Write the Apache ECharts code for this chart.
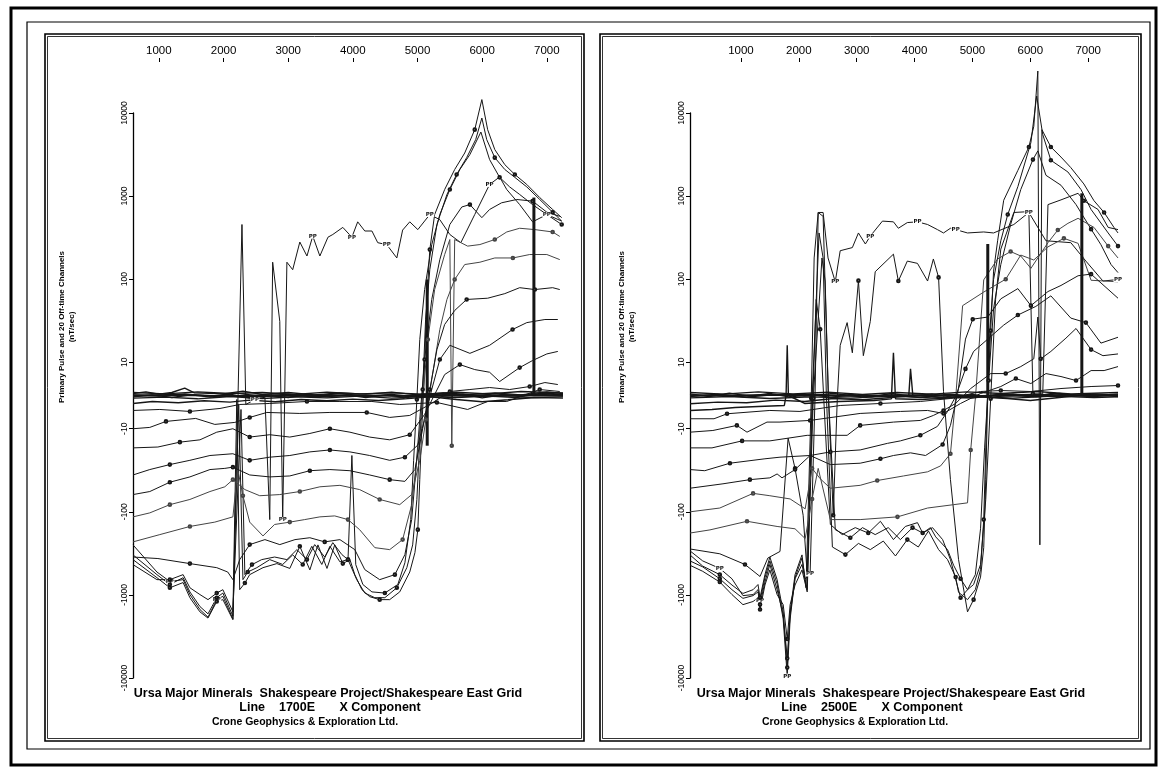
<!DOCTYPE html>
<html>
<head>
<meta charset="utf-8">
<script src="https://cdn.jsdelivr.net/npm/echarts@6.0.0/dist/echarts.min.js"></script>
<style>
  html, body { margin: 0; padding: 0; background: #fff; }
  #chart { width: 1158px; height: 767px; }
</style>
</head>
<body>
<div id="chart"></div>
<script>
// ---- axis ticks ----
const xTicks = [1000, 2000, 3000, 4000, 5000, 6000, 7000];
const yTickValues = [-10000, -1000, -100, -10, 10, 100, 1000, 10000];
const yTickLabels = ['-10000', '-1000', '-100', '-10', '10', '100', '1000', '10000'];

// ---- Line 1700E : [station, nT/sec] ----
const A_PP = [[600,-250],[970,-530],[1170,-690],[1375,-655],[1480,-990],[1635,-1500],[1760,-1850],[1895,-1140],[1990,-1040],[2145,-1950],[2285,455],[2345,-2.7],[2485,-1.2],[2640,-0.5],[2715,-124],[2760,160],[2870,31],[2915,-124],[2980,160],[3070,130],[3180,280],[3290,190],[3380,330],[3490,190],[3615,320],[3690,345],[3845,420],[3985,320],[4075,490],[4185,380],[4295,380],[4385,275],[4525,260],[4680,180],[4770,390],[4880,490],[5005,395],[5190,600],[5345,520],[5500,345],[5670,275],[5885,600],[6115,1380],[6270,1700],[6380,1200],[6580,790],[6780,490],[7000,600],[7230,500]];
const A_CH1 = [[600,-330],[970,-570],[1170,-750],[1375,-620],[1480,-920],[1635,-1380],[1760,-1690],[1895,-1080],[1990,-950],[2145,-1800],[2205,-1.2],[2250,-865],[2330,-720],[2405,-570],[2610,-470],[2825,-420],[3025,-480],[3180,-260],[3335,-500],[3460,-250],[3600,-480],[3720,-250],[3845,-420],[3955,-376],[4030,-570],[4140,-865],[4260,-1050],[4415,-1140],[4570,-1140],[4725,-920],[4880,-530],[4960,-310],[5005,-164],[5035,-41],[5065,-10],[5095,1.8],[5145,57],[5190,227],[5265,600],[5420,1200],[5575,2090],[5730,3300],[5885,6300],[5995,14500],[6085,6300],[6195,3630],[6350,2390],[6505,1820],[6690,1380],[6890,960],[7090,690],[7230,550]];
const A_CH2 = [[600,-376],[970,-620],[1170,-820],[1375,-710],[1480,-1080],[1635,-1600],[1760,-1900],[1895,-1200],[1990,-1140],[2145,-1990],[2235,-2.7],[2300,-655],[2375,-530],[2515,-470],[2715,-376],[2915,-430],[3070,-330],[3225,-430],[3365,-260],[3520,-430],[3645,-260],[3800,-400],[3925,-376],[4060,-655],[4185,-950],[4340,-1080],[4495,-1080],[4680,-820],[4835,-470],[4925,-250],[4990,-71],[5035,-13.6],[5080,1.8],[5125,33],[5190,130],[5300,455],[5455,1045],[5605,1820],[5760,2900],[5900,4790],[5995,8700],[6070,4790],[6195,2900],[6350,2090],[6505,1680],[6690,1290],[6890,910],[7090,640],[7230,500]];
const A_CH3 = [[600,-432],[970,-655],[1170,-655],[1375,-570],[1480,-820],[1635,-990],[1760,-1140],[1895,-950],[1990,-865],[2145,-1600],[2270,-4.2],[2330,-570],[2440,-432],[2590,-376],[2790,-350],[2980,-376],[3135,-285],[3290,-376],[3410,-248],[3565,-350],[3690,-235],[3830,-327],[3925,-376],[3985,-21],[4045,-432],[4155,-750],[4295,-920],[4495,-950],[4695,-750],[4805,-410],[4895,-124],[4940,-24],[4990,-1.2],[5035,18.8],[5110,75],[5220,260],[5345,600],[5500,1200],[5655,2090],[5810,3160],[5980,5900],[6115,2750],[6270,1680],[6425,1290],[6580,1045],[6780,790],[7000,600],[7230,455]];
const A_CH4 = [[600,-350],[985,-365],[1480,-420],[1895,-470],[2065,-530],[2145,-655],[2250,-376],[2405,-248],[2640,-216],[2870,-248],[3105,-216],[3335,-205],[3565,-230],[3800,-216],[4030,-285],[4185,-496],[4415,-655],[4650,-570],[4805,-327],[4910,-124],[4975,-31],[5035,-7.2],[5110,10.8],[5220,57],[5345,172],[5500,455],[5685,740],[5810,790],[5995,550],[6115,690],[6300,830],[6535,910],[6780,870],[7000,640],[7200,570]];
const A_CH5 = [[600,-230],[1015,-188],[1480,-150],[1865,-133],[2145,-115],[2220,-31],[2300,-64],[2405,-133],[2610,-195],[2790,-142],[3025,-133],[3255,-124],[3490,-115],[3720,-112],[3925,-124],[4105,-164],[4340,-270],[4570,-285],[4770,-216],[4910,-82],[5005,-18],[5080,-1.2],[5160,18.8],[5265,75],[5420,198],[5500,300],[5530,-16],[5575,300],[5775,250],[5965,261],[6195,300],[6380,370],[6580,410],[6815,395],[7090,370],[7200,327]];
const A_CH6 = [[600,-115],[860,-103],[1170,-82],[1480,-71],[1790,-57],[2020,-50],[2145,-41],[2330,-54],[2560,-64],[2870,-62],[3180,-57],[3490,-50],[3800,-48],[4105,-54],[4415,-71],[4725,-82],[4910,-62],[5035,-24],[5130,-7.2],[5220,4.8],[5345,24.8],[5455,57],[5575,99],[5730,150],[5965,160],[6195,180],[6475,180],[6735,198],[7000,198],[7200,172]];
const A_CH7 = [[600,-62],[860,-57],[1170,-44],[1480,-38],[1790,-31],[2020,-30],[2145,-29],[2405,-36],[2715,-38],[3025,-37],[3335,-32],[3645,-31],[3955,-32],[4260,-36],[4570,-41],[4805,-43],[4960,-31],[5080,-10],[5190,1.8],[5300,14.2],[5420,28.5],[5575,42],[5760,57],[6085,59],[6350,67],[6580,79],[6815,75],[7090,79],[7200,75]];
const A_CH8 = [[600,-36],[860,-31],[1170,-27],[1480,-24],[1790,-21],[2145,-20],[2405,-24],[2715,-22],[3025,-21],[3335,-19],[3645,-18],[3955,-19],[4260,-21],[4570,-24],[4805,-22],[5005,-15.7],[5110,-7.2],[5220,1.8],[5345,10.8],[5500,16],[5810,12.8],[6115,16],[6470,24.8],[6690,30],[6970,32.7],[7170,32.7]];
const A_CH9 = [[600,-17],[985,-16.6],[1325,-14.5],[1635,-13.6],[1895,-11],[2145,-10],[2405,-12.6],[2715,-11.8],[3025,-12.6],[3335,-11.4],[3645,-10],[3955,-11],[4260,-12.6],[4570,-13.6],[4880,-11.8],[5110,-5.7],[5265,0.3],[5420,6.3],[5655,9.3],[5885,7.8],[6115,7],[6270,4.2],[6580,8.4],[6780,10.5],[7000,12.6],[7170,13.5]];
const A_CH10 = [[600,-10],[860,-9.6],[1110,-7.8],[1570,-6.9],[1865,-8.7],[2175,-8.1],[2405,-6.6],[2670,-5.1],[3180,-5.4],[3645,-5.1],[4215,-5.1],[4570,-6.6],[4880,-6],[5190,-2.7],[5500,1.2],[5810,1.8],[6115,2.4],[6425,1.8],[6735,2.7],[6970,3.9],[7170,3.3]];
const A_CH11 = [[600,-4.5],[1015,-4.2],[1480,-4.8],[1945,-3.9],[2250,-2.7],[2715,-2.4],[3290,-1.8],[3800,-1.8],[4295,-1.8],[4725,-2.7],[5300,-2.1],[5775,-4.2],[6085,-1.8],[6380,-1.8],[6890,1.8],[7200,1.2]];
const A_CH12 = [[600,-2.4],[900,-1.8],[1300,-2.2],[1700,-1.6],[2100,-2],[2400,-1.4],[2800,-1.9],[3200,-1.2],[3600,-1.6],[4000,-1.1],[4400,-1.5],[4800,-1],[5200,-0.4],[5600,-1.2],[6000,-1.9],[6400,-1.3],[6800,-0.6],[7250,-0.8]];
const A_CH13 = [[600,0.6],[800,1.1],[1000,0.4],[1200,0.9],[1400,2.2],[1550,0.8],[2000,0.5],[2300,1.3],[2600,0.3],[3000,0.9],[3400,0.2],[3800,0.8],[4200,0.4],[4600,1],[5000,0.2],[5400,0.8],[5800,0.3],[6200,0.8],[6600,0.2],[7000,1.1],[7250,0.6]];
const A_CH14 = [[600,-0.4],[900,0.2],[1200,-0.6],[1500,0.2],[1800,-0.5],[2100,0.4],[2400,-0.8],[2700,0],[3000,-0.6],[3300,0.3],[3600,-0.4],[3900,0.2],[4200,-0.6],[4500,0.1],[4800,-0.5],[5100,0.5],[5400,-0.2],[5700,0.4],[6000,-0.7],[6300,0.2],[6600,-0.3],[6900,0.6],[7250,0.2]];
const A_CH15 = [[600,0.2],[1000,-0.2],[1400,0.5],[1800,-0.2],[2200,0.7],[2600,-0.3],[3000,0.4],[3400,-0.1],[3800,0.6],[4200,-0.2],[4600,0.3],[5000,-0.4],[5400,0.6],[5800,-0.2],[6200,0.5],[6600,-0.1],[7000,0.7],[7250,0.3]];
const A_CH16 = [[600,-0.8],[1100,-0.5],[1600,-1],[2100,-0.3],[2600,-0.9],[3100,-0.4],[3600,-0.7],[4100,-0.2],[4600,-0.8],[5100,-0.3],[5600,-0.6],[6100,-0.2],[6600,-0.7],[7250,-0.4]];
const A_CH17 = [[600,0.9],[1100,0.5],[1600,1.1],[2100,0.6],[2600,0.9],[3100,0.3],[3600,1],[4100,0.5],[4600,0.8],[5100,0.4],[5600,1],[6100,0.5],[6600,1.2],[7250,0.8]];
const A_CH18 = [[600,0],[1300,0.3],[2000,-0.2],[2700,0.2],[3400,-0.3],[4100,0.1],[4800,-0.2],[5500,0.3],[6200,-0.1],[6900,0.3],[7250,0]];
const A_CH19 = [[600,-0.2],[1500,0.1],[2400,-0.3],[3300,0],[4200,-0.2],[5100,0.1],[6000,-0.3],[6900,0],[7250,-0.1]];
const A_CH20 = [[600,0.1],[2000,-0.1],[3500,0.2],[5000,-0.1],[6500,0.1],[7250,0]];
// heavy vertical strokes: [station, top, bottom]
const A_BARS = [[5150, 99, -16], [6800, 960, 0]];

// ---- Line 2500E : [station, nT/sec] ----
const B_PP = [[120,-295],[340,-390],[635,-480],[845,-640],[1035,-1020],[1210,-990],[1295,-865],[1330,-1170],[1415,-620],[1500,-390],[1625,-740],[1730,-1950],[1800,-9500],[1850,-1950],[1935,-620],[2055,-360],[2110,-640],[2195,-560],[2280,-0.8],[2335,635],[2420,635],[2505,180],[2630,93],[2715,220],[2925,240],[3030,360],[3150,265],[3235,330],[3445,500],[3635,490],[3720,410],[3875,480],[4050,490],[4225,455],[4395,395],[4500,360],[4620,410],[4710,395],[4915,360],[5195,370],[5365,360],[5715,455],[5975,635],[6270,290],[6700,275],[6960,165],[7255,95],[7515,99]];
const B_CH1 = [[120,-330],[340,-450],[635,-570],[845,-760],[1035,-960],[1210,-865],[1295,-750],[1330,-1080],[1415,-570],[1500,-350],[1625,-655],[1730,-1600],[1800,-7500],[1850,-1600],[1935,-570],[2055,-330],[2125,-820],[2215,-0.8],[2265,180],[2335,635],[2420,570],[2510,0.3],[2595,-110],[2665,-1],[2715,16],[2835,30],[2925,13],[3030,96],[3115,12],[3235,31],[3320,123],[3635,200],[3720,95],[3875,165],[4050,155],[4225,95],[4325,175],[4415,105],[4500,1.2],[4620,-41],[4760,-376],[4915,-1600],[5020,-1140],[5140,-610],[5195,-270],[5230,-41],[5265,0],[5315,24],[5365,125],[5435,290],[5540,890],[5785,2040],[5975,3900],[6060,6900],[6130,32000],[6165,-250],[6200,6300],[6355,3900],[6530,2950],[6700,2200],[6925,1400],[7100,880],[7275,635],[7445,420],[7515,360]];
const B_CH2 = [[120,-390],[340,-460],[635,-640],[845,-865],[1035,-1100],[1210,-1020],[1295,-920],[1330,-1300],[1415,-700],[1500,-430],[1625,-865],[1730,-1730],[1800,-5800],[1850,-1730],[1935,-640],[2055,-430],[2145,-865],[2230,-0.8],[2350,360],[2420,180],[2475,0.6],[2580,-265],[2805,-327],[3030,-240],[3235,-285],[3460,-225],[3670,-340],[3875,-216],[4065,-265],[4240,-170],[4415,-285],[4570,-376],[4710,-610],[4760,-930],[4915,-1140],[5050,-865],[5140,-496],[5195,-124],[5245,-7],[5300,24],[5365,99],[5490,290],[5610,600],[5785,1300],[6010,4400],[6110,16000],[6215,5500],[6355,2700],[6650,1950],[6875,1200],[7050,690],[7345,360],[7515,250]];
const B_CH3 = [[120,-440],[340,-520],[635,-700],[845,-990],[1035,-1310],[1210,-1200],[1295,-1080],[1330,-1500],[1415,-760],[1500,-500],[1625,-990],[1730,-1310],[1800,-3400],[1850,-1310],[1935,-760],[2055,-500],[2145,-920],[2250,-0.8],[2400,180],[2455,95],[2510,0.6],[2630,-164],[2890,-205],[3100,-155],[3320,-188],[3545,-155],[3755,-216],[3965,-155],[4140,-180],[4310,-155],[4485,-216],[4620,-376],[4795,-1080],[4915,-865],[5050,-570],[5140,-160],[5210,-17],[5280,4.5],[5365,44],[5490,150],[5660,455],[5835,1200],[6045,2750],[6130,3500],[6270,1780],[6530,1350],[6790,790],[7050,400],[7220,260],[7395,150],[7515,120]];
const B_CH4 = [[120,-280],[635,-320],[1070,-430],[1330,-600],[1465,-360],[1675,-300],[1815,-13],[1935,-30],[2075,-110],[2145,-560],[2230,-7],[2300,57],[2370,25],[2440,-4],[2545,-142],[2750,-188],[2975,-155],[3200,-180],[3410,-130],[3635,-216],[3840,-150],[4050,-135],[4140,-180],[4275,-155],[4365,-200],[4570,-285],[4675,-440],[4795,-640],[4915,-865],[5020,-750],[5140,-430],[5230,-71],[5315,-1],[5400,57],[5490,230],[5715,635],[5975,650],[6045,0.5],[6215,0.5],[6305,790],[6530,900],[6825,1080],[6925,880],[7170,690],[7345,420],[7515,395]];
const B_CH5 = [[120,-180],[465,-165],[1105,-130],[1625,-150],[1935,-160],[2110,-210],[2230,-70],[2335,-30],[2545,-124],[3060,-124],[3705,-115],[4225,-90],[4675,-82],[4915,-78],[4970,-18],[5055,0],[5195,98],[5435,175],[5660,215],[5835,190],[6010,135],[6305,275],[6475,390],[6650,470],[6825,540],[7100,420],[7345,250],[7515,180]];
const B_CH6 = [[120,-100],[635,-90],[1210,-60],[1500,-64],[1850,-70],[2110,-92],[2230,-30],[2370,-40],[2545,-52],[3060,-48],[3355,-42],[3810,-37],[4225,-33],[4450,-28],[4620,-20],[4710,-0.8],[4830,48],[5195,70],[5575,100],[5835,195],[6060,170],[6305,245],[6580,310],[6825,270],[7050,97],[7515,93]];
const B_CH7 = [[120,-52],[690,-46],[1155,-41],[1500,-39],[1625,-35],[1710,-39],[1935,-31],[2195,-21],[2545,-27],[3060,-26],[3410,-23],[3635,-21],[3930,-19.5],[4190,-21],[4485,-15.5],[4620,-9],[4745,0.6],[4880,19],[5005,33],[5265,35],[5490,58],[5785,77],[6010,48],[6305,71],[6530,84],[6825,110],[7050,115],[7515,59]];
const B_CH8 = [[120,-31],[375,-32],[810,-26],[1415,-23],[1675,-22],[2195,-21],[2545,-19],[3060,-18],[3530,-15],[3755,-14],[4100,-12],[4395,-9.3],[4570,-4.8],[4710,-0.3],[4880,8],[5020,13.5],[5265,19],[5540,28],[5785,37],[6095,47],[6355,63],[6700,34],[6960,30],[7220,17],[7515,20]];
const B_CH9 = [[120,-17],[500,-17],[1020,-14],[1500,-14],[2145,-12],[2835,-12],[3060,-9],[3635,-8],[4100,-7.5],[4325,-6],[4500,-4.5],[4710,-2.4],[4970,2.1],[5315,6.6],[5575,6.6],[5835,8.7],[6060,11],[6130,35],[6180,11],[6355,13.5],[6615,19.5],[6790,25.5],[7050,14.2],[7255,12],[7515,12.6]];
const B_CH10 = [[120,-11],[515,-10.5],[930,-9],[1105,-11],[1450,-8],[1675,-8],[2195,-7.5],[3060,-5.4],[3755,-4.8],[4225,-4.5],[4500,-5.4],[4795,-2.4],[5140,0.6],[5490,2.7],[5750,5.1],[6010,3.6],[6270,6.6],[6530,5.7],[6790,4.5],[7050,7.5],[7275,7.5],[7515,8.7]];
const B_CH11 = [[120,-7],[535,-7],[760,-5.5],[1500,-4.5],[2020,-4.8],[2715,-3],[3410,-2.4],[4100,-1.8],[4620,-0.9],[5140,1.2],[5490,1.5],[6010,1.2],[6530,2.1],[7050,2.7],[7515,3]];
const B_CH12 = [[120,-4.5],[500,-4.2],[900,-3.6],[1300,-3.3],[1750,-3],[1780,0],[1800,16],[1820,0],[2100,-2.4],[2700,-1.8],[3300,-1.5],[3600,-1],[3635,13],[3670,-1],[4100,-1.2],[4600,-0.8],[5100,-0.4],[5600,-0.9],[6000,-1.5],[6500,-0.6],[7000,0.3],[7515,-0.3]];
const B_CH13 = [[120,-2.5],[600,-2],[1100,-2.2],[1600,-1.4],[2100,-1.8],[2600,-0.9],[3100,-1.3],[3600,-0.6],[3900,-0.2],[3930,8],[3970,0],[4500,-0.5],[5000,-0.8],[5500,0.4],[6000,-0.3],[6500,0.6],[7000,-0.2],[7515,0.5]];
const B_CH14 = [[120,0.5],[450,-0.3],[800,0.7],[1150,-0.2],[1500,0.6],[1850,-0.5],[2200,0.4],[2550,-0.6],[2900,0.3],[3250,-0.4],[3600,0.6],[3950,-0.2],[4300,0.5],[4650,-0.5],[5000,0.3],[5350,-0.6],[5700,0.4],[6050,-0.3],[6400,0.7],[6750,-0.1],[7100,0.5],[7515,0.1]];
const B_CH15 = [[120,-0.3],[600,0.4],[1100,-0.5],[1600,0.3],[2100,-0.2],[2600,0.6],[3100,-0.4],[3600,0.2],[4100,-0.6],[4600,0.4],[5100,-0.2],[5600,0.5],[6100,-0.4],[6600,0.3],[7100,-0.3],[7515,0.2]];
const B_CH16 = [[120,0.9],[700,0.4],[1300,1.1],[1900,0.5],[2500,1],[3100,0.3],[3700,0.9],[4300,0.4],[4900,1.1],[5500,0.6],[6100,1.2],[6700,0.5],[7515,0.9]];
const B_CH17 = [[120,-0.7],[800,-0.3],[1500,-0.9],[2200,-0.4],[2900,-0.8],[3600,-0.2],[4300,-0.7],[5000,-0.3],[5700,-0.8],[6400,-0.2],[7100,-0.6],[7515,-0.4]];
const B_CH18 = [[120,0.2],[1000,-0.1],[2000,0.3],[3000,-0.2],[4000,0.2],[5000,-0.1],[6000,0.3],[7000,-0.2],[7515,0.1]];
const B_CH19 = [[120,-0.1],[1400,0.2],[2800,-0.2],[4200,0.1],[5600,-0.2],[7000,0.2],[7515,0]];
const B_CH20 = [[120,0],[2500,0.1],[5000,-0.1],[7515,0.1]];
const B_BARS = [[5265, 265, 0], [6890, 1080, 0]];

// ---- captions ----
const A_LINE = 'Line    1700E       X Component';
const B_LINE = 'Line    2500E       X Component';
const TITLE = 'Ursa Major Minerals  Shakespeare Project/Shakespeare East Grid';
const COMPANY = 'Crone Geophysics & Exploration Ltd.';
const Y_NAME = 'Primary Pulse and 20 Off-time Channels';
const Y_UNIT = '(nT/sec)';

// symmetric log: linear inside +-10, one unit per decade beyond
function T(v) {
  const a = Math.abs(v);
  if (a < 10) return v * 0.04;
  return Math.sign(v) * (0.4 + Math.log10(a / 10));
}
const yTickPos = yTickValues.map(T);
function yLabel(val) {
  for (let i = 0; i < yTickPos.length; i++) {
    if (Math.abs(yTickPos[i] - val) < 1e-6) return yTickLabels[i];
  }
  return '';
}

const INK = '#161616';
function channel(pts, idx, opts) {
  const o = opts || {};
  const every = o.every || 0;
  const col = o.color || INK;
  return {
    type: 'line',
    xAxisIndex: idx, yAxisIndex: idx,
    clip: false,
    animation: false,
    silent: true,
    showSymbol: true,
    showAllSymbol: true,
    symbol: 'none',
    symbolSize: 2.6,
    itemStyle: { color: col, borderWidth: 0.7 },
    lineStyle: { color: col, width: o.width || 1 },
    data: pts.map(function (p, i) {
      const item = { value: [p[0], T(p[1])] };
      if (every && i % every === 2) {
        if (o.text) {
          item.symbol = 'rect';
          item.symbolSize = [9, 5];
          item.itemStyle = { color: '#fff', borderWidth: 0 };
          item.label = { show: true, position: 'inside', formatter: o.text, fontSize: 5.5, fontWeight: 'bold', color: INK, fontFamily: 'DejaVu Sans' };
        } else {
          item.symbol = 'emptyCircle';
        }
      }
      return item;
    })
  };
}
function bars(list, idx) {
  return list.map(function (b) {
    return {
      type: 'line', xAxisIndex: idx, yAxisIndex: idx, clip: false, animation: false, silent: true,
      symbol: 'none', lineStyle: { color: INK, width: 3 },
      data: [[b[0], T(b[1])], [b[0], T(b[2])]]
    };
  });
}
function panelSeries(set, idx) {
  const out = [];
  out.push(channel(set.pp, idx, { every: 5, text: 'PP' }));
  set.early.forEach(function (s) { out.push(channel(s, idx, { every: 5 })); });
  set.mid.forEach(function (s, k) { out.push(channel(s, idx, { every: 4, color: k < 2 ? '#444' : INK })); });
  set.late.forEach(function (s) { out.push(channel(s, idx, { width: 1.4 })); });
  return out.concat(bars(set.bars, idx));
}

const A_SET = { pp: A_PP, early: [A_CH1, A_CH2, A_CH3, A_CH4], mid: [A_CH5, A_CH6, A_CH7, A_CH8, A_CH9, A_CH10, A_CH11],
  late: [A_CH12, A_CH13, A_CH14, A_CH15, A_CH16, A_CH17, A_CH18, A_CH19, A_CH20], bars: A_BARS };
const B_SET = { pp: B_PP, early: [B_CH1, B_CH2, B_CH3, B_CH4], mid: [B_CH5, B_CH6, B_CH7, B_CH8, B_CH9, B_CH10, B_CH11],
  late: [B_CH12, B_CH13, B_CH14, B_CH15, B_CH16, B_CH17, B_CH18, B_CH19, B_CH20], bars: B_BARS };

const FONT = 'Liberation Sans';
function xAxisDef(idx, min, max) {
  return {
    gridIndex: idx, type: 'value', position: 'top', min: min, max: max, offset: 51,
    axisLine: { show: false, onZero: false },
    axisTick: { show: true, customValues: xTicks, length: 4, lineStyle: { color: '#000', width: 1 } },
    axisLabel: { customValues: xTicks, margin: 5, color: '#000', fontSize: 11.5, fontFamily: FONT, formatter: function (v) { return String(v); } },
    splitLine: { show: false }
  };
}
function yAxisDef(idx) {
  return {
    gridIndex: idx, type: 'value', min: -3.4, max: 3.4,
    axisLine: { show: true, onZero: false, lineStyle: { color: '#000', width: 1.3 } },
    axisTick: { show: true, customValues: yTickPos, length: 4, lineStyle: { color: '#000' } },
    axisLabel: { customValues: yTickPos, rotate: 90, margin: 4, color: '#000', fontSize: 8.5, fontFamily: FONT, formatter: yLabel },
    splitLine: { show: false }
  };
}
function txt(x, y, s, opt) {
  const o = opt || {};
  return {
    type: 'text', x: x, y: y, rotation: o.rot || 0, silent: true, z: 10,
    style: { text: s, fill: '#000', font: (o.font || 'bold 12.5px ' + FONT), textAlign: o.align || 'center', textVerticalAlign: 'middle' }
  };
}
function box(x, y, w, h, lw) {
  return { type: 'rect', silent: true, z: 10, shape: { x: x, y: y, width: w, height: h }, style: { fill: 'none', stroke: '#000', lineWidth: lw } };
}

const CAPTION_SMALL = 'bold 10.5px ' + FONT;
const chart = echarts.init(document.getElementById('chart'), null, { renderer: 'canvas' });
chart.setOption({
  backgroundColor: '#fff',
  animation: false,
  grid: [
    { left: 133, top: 113, width: 430, height: 565 },
    { left: 690, top: 113, width: 428, height: 565 }
  ],
  xAxis: [xAxisDef(0, 600, 7250), xAxisDef(1, 120, 7515)],
  yAxis: [yAxisDef(0), yAxisDef(1)],
  series: panelSeries(A_SET, 0).concat(panelSeries(B_SET, 1)),
  graphic: [
    box(11, 8, 1145, 757, 3),
    box(27, 22, 1123, 727, 1.2),
    box(45, 34, 539, 707, 1.6),
    box(47.5, 36.5, 534, 702, 0.8),
    box(600, 34, 541, 707, 1.6),
    box(602.5, 36.5, 536, 702, 0.8),
    txt(62, 327, Y_NAME, { rot: Math.PI / 2, font: 'bold 8px ' + FONT }),
    txt(72, 327, Y_UNIT, { rot: Math.PI / 2, font: 'bold 8px ' + FONT }),
    txt(622, 327, Y_NAME, { rot: Math.PI / 2, font: 'bold 8px ' + FONT }),
    txt(632, 327, Y_UNIT, { rot: Math.PI / 2, font: 'bold 8px ' + FONT }),
    txt(328, 694, TITLE),
    txt(330, 708, A_LINE),
    txt(305, 722, COMPANY, { font: CAPTION_SMALL }),
    txt(891, 694, TITLE),
    txt(872, 708, B_LINE),
    txt(855, 722, COMPANY, { font: CAPTION_SMALL })
  ]
});
</script>
</body>
</html>
